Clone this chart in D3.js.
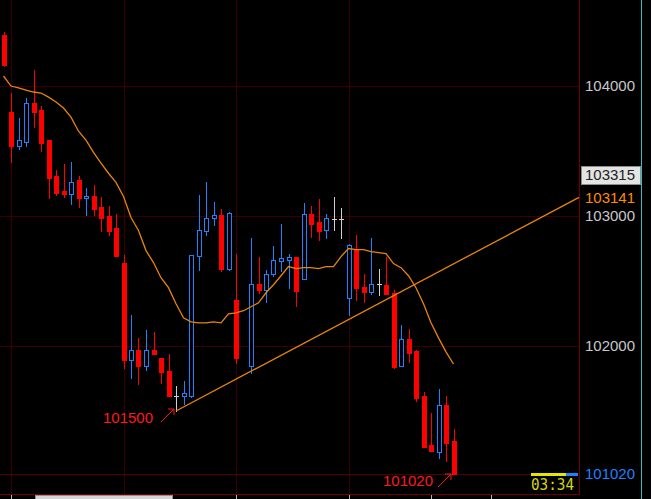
<!DOCTYPE html>
<html>
<head>
<meta charset="utf-8">
<script src="https://cdn.jsdelivr.net/npm/d3@7"></script>
<style>
  html, body { margin: 0; padding: 0; background: #000; }
  svg { display: block; }
</style>
</head>
<body>
<script>
// ---- data ----
const opens = [104389,103796,103534,103565,103865,103811,103580,103302,103187,103164,
  103272,103133,103148,103064,102994,102902,102640,101892,101969,101846,
  101969,101908,101807,101615,101615,101615,102694,102886,102979,103002,
  102593,102355,null,101846,102478,102432,102555,102655,102663,102686,
  102516,103010,102948,102894,102971,102971,102370,102748,102455,102416,
  102478,102470,102409,101846,102054,101961,101615,101237,101183,101545,
  101268];
const highs = [104412,103942,103750,103904,104119,103842,103580,103349,103395,103410,
  103302,103210,103233,103141,103071,103010,102701,102239,102062,102123,
  102108,101908,101938,101690,101730,102701,103156,103256,103102,103048,
  103025,102709,null,102825,102686,102586,102771,102940,102709,102686,
  103094,103071,103125,103010,103141,103056,102786,102848,102555,102825,
  102593,102686,102432,102162,102131,101969,101645,101484,101669,101615,
  101360];
const lows = [104150,103410,103511,103534,103680,103495,103133,103156,103141,103087,
  103064,103002,103002,102886,102855,102694,101830,101753,101707,101815,
  101938,101715,101615,101500,101553,101608,102586,102855,102925,102578,
  102586,101869,null,101792,102409,102339,102540,102578,102447,102308,
  102516,102840,102817,102832,102894,102832,102239,102355,102339,102401,
  102393,102401,101830,101846,101877,101576,101222,101191,101137,101114,
  101020];
const closes = [104158,103534,103580,103865,103796,103557,103287,103171,103164,103256,
  103133,103148,103048,102979,102886,102694,101892,101969,101846,101969,
  101938,101800,101615,101615,101638,102701,102894,102986,103002,102593,
  103017,101908,null,102478,102432,102555,102663,102678,102686,102424,
  103010,102940,102886,102979,102971,102971,102778,102447,102416,102478,
  102478,102401,101838,102054,101946,101599,101222,101191,101545,101252,
  101020];
const ma = [104073,103996,103981,103965,103950,103942,103911,103873,103827,103757,
  103649,103580,103487,103403,103326,103256,103148,102986,102886,102732,
  102640,102524,102447,102324,102216,102185,102177,102177,102185,102177,
  102247,102254,102270,102301,102331,102408,102470,102539,102609,102593,
  102601,102601,102593,102609,102609,102686,102748,102740,102740,102724,
  102717,102709,102632,102601,102539,102447,102324,102177,102062,101954,
  101861];
const gridPrices = [104000, 103000, 102000];
const gridBars = [1, 16, 31, 46];
const timeTickBars = [1, 31, 46, 57, 65];
const askPrice = 103315;
const trendStart = { bar: 23, price: 101500 };
const trendEndPrice = 103141;
const lastPrice = 101020;
const lowLabel = "101500";
const lastLabel = "101020";
const timerText = "03:34";

// ---- layout ----
const W = 651, H = 499;
const plotRight = 579, plotBottom = 494;
const x = d3.scaleLinear().domain([0, 60]).range([3.5, 453.5]);
const y = d3.scaleLinear().domain([101020, 104000]).range([473.5, 85.5]);

const svg = d3.select("body").append("svg").attr("width", W).attr("height", H)
  .style("background", "#000");

const crisp = v => Math.round(v) + 0.5;
const GRID = "#3a0000";

// grid
const grid = svg.append("g").attr("shape-rendering", "crispEdges");
grid.selectAll("line.h").data(gridPrices).join("line").attr("class", "h")
  .attr("x1", 0).attr("x2", plotRight).attr("y1", d => crisp(y(d))).attr("y2", d => crisp(y(d)))
  .attr("stroke", GRID);
grid.selectAll("line.v").data(gridBars).join("line").attr("class", "v")
  .attr("x1", d => crisp(x(d))).attr("x2", d => crisp(x(d))).attr("y1", 0).attr("y2", plotBottom)
  .attr("stroke", GRID);
// last price line
grid.append("line").attr("x1", 0).attr("x2", plotRight)
  .attr("y1", crisp(y(lastPrice))).attr("y2", crisp(y(lastPrice))).attr("stroke", "#500000");
// frame
grid.append("line").attr("x1", plotRight + 0.5).attr("x2", plotRight + 0.5).attr("y1", 0).attr("y2", plotBottom + 1)
  .attr("stroke", "#700000");
grid.append("line").attr("x1", 0).attr("x2", plotRight + 1).attr("y1", plotBottom + 0.5).attr("y2", plotBottom + 0.5)
  .attr("stroke", "#700000");
// right cyan border
grid.append("line").attr("x1", 641.5).attr("x2", 641.5).attr("y1", 0).attr("y2", H).attr("stroke", "#3cbcbc");
// bottom ticks and scroll box
grid.selectAll("line.t").data(timeTickBars).join("line").attr("class", "t")
  .attr("x1", d => crisp(x(d))).attr("x2", d => crisp(x(d))).attr("y1", plotBottom + 1).attr("y2", H)
  .attr("stroke", "#b0b0b0");
grid.append("rect").attr("x", 35.5).attr("y", 495.5).attr("width", 137).attr("height", 6)
  .attr("fill", "#d4d4d4").attr("stroke", "#909090");

// candles
const bars = d3.range(opens.length).filter(i => opens[i] !== null).map(i => ({
  i, o: opens[i], h: highs[i], l: lows[i], c: closes[i]
}));
const BLUE = "#1e82ff", RED = "#ff0000", DOJI = "#d0d0d0";
const cg = svg.append("g").attr("shape-rendering", "crispEdges");
const colorOf = d => d.c > d.o ? BLUE : (d.c < d.o ? RED : DOJI);
cg.selectAll("rect.wick").data(bars).join("rect").attr("class", "wick")
  .attr("x", d => Math.round(x(d.i))).attr("width", 1)
  .attr("y", d => Math.round(y(d.h)))
  .attr("height", d => Math.round(y(d.l)) - Math.round(y(d.h)) + 1)
  .attr("fill", colorOf);
// bearish: filled red
cg.selectAll("rect.down").data(bars.filter(d => d.c < d.o)).join("rect").attr("class", "down")
  .attr("x", d => Math.round(x(d.i)) - 2).attr("width", 5)
  .attr("y", d => Math.round(y(d.o)))
  .attr("height", d => Math.max(2, Math.round(y(d.c)) - Math.round(y(d.o)) + 1))
  .attr("fill", RED);
// bullish: hollow blue (outer blue, inner black)
const ups = bars.filter(d => d.c > d.o);
cg.selectAll("rect.up").data(ups).join("rect").attr("class", "up")
  .attr("x", d => Math.round(x(d.i)) - 2).attr("width", 5)
  .attr("y", d => Math.round(y(d.c)))
  .attr("height", d => Math.max(2, Math.round(y(d.o)) - Math.round(y(d.c)) + 1))
  .attr("fill", BLUE);
cg.selectAll("rect.upin").data(ups.filter(d => Math.round(y(d.o)) - Math.round(y(d.c)) >= 2)).join("rect").attr("class", "upin")
  .attr("x", d => Math.round(x(d.i)) - 1).attr("width", 3)
  .attr("y", d => Math.round(y(d.c)) + 1)
  .attr("height", d => Math.round(y(d.o)) - Math.round(y(d.c)) - 1)
  .attr("fill", "#000");
// doji
cg.selectAll("rect.doji").data(bars.filter(d => d.c === d.o)).join("rect").attr("class", "doji")
  .attr("x", d => Math.round(x(d.i)) - 2).attr("width", 5)
  .attr("y", d => Math.round(y(d.o))).attr("height", 1)
  .attr("fill", DOJI);

// moving average
const ORANGE = "#e8840c";
const maLine = d3.line().x((d, i) => x(i)).y(d => y(d));
svg.append("path").attr("d", maLine(ma)).attr("fill", "none")
  .attr("stroke", ORANGE).attr("stroke-width", 1.3);

// trend line
const endBar = x.invert(plotRight);
svg.append("line")
  .attr("x1", x(trendStart.bar)).attr("y1", y(trendStart.price))
  .attr("x2", x(endBar)).attr("y2", y(trendEndPrice))
  .attr("stroke", ORANGE).attr("stroke-width", 1.3);

// axis labels
const font = "'Liberation Sans', Arial, sans-serif";
svg.selectAll("text.ax").data(gridPrices).join("text").attr("class", "ax")
  .attr("x", 585).attr("y", d => y(d)).attr("dy", "0.36em")
  .attr("font-family", font).attr("font-size", 15).attr("fill", "#c8c8c8")
  .text(d => d);
svg.append("rect").attr("x", 581.5).attr("y", Math.round(y(askPrice)) - 8.5)
  .attr("width", 59).attr("height", 18).attr("fill", "#e4e4e4").attr("stroke", "#8c8c8c")
  .attr("shape-rendering", "crispEdges");
svg.append("text").attr("x", 585).attr("y", y(askPrice)).attr("dy", "0.36em")
  .attr("font-family", font).attr("font-size", 15).attr("fill", "#222").text(askPrice);
svg.append("text").attr("x", 585).attr("y", y(trendEndPrice)).attr("dy", "0.36em")
  .attr("font-family", font).attr("font-size", 15).attr("fill", "#ff8c00").text(trendEndPrice);
svg.append("text").attr("x", 585).attr("y", y(lastPrice)).attr("dy", "0.36em")
  .attr("font-family", font).attr("font-size", 15).attr("fill", BLUE).text(lastPrice);

// timer bar & text
const by = Math.round(y(lastPrice)) - 1;
svg.append("rect").attr("x", 531).attr("y", by).attr("width", 35).attr("height", 3).attr("fill", "#e6e600");
svg.append("rect").attr("x", 566).attr("y", by).attr("width", 12).attr("height", 3).attr("fill", BLUE);
svg.append("text").attr("x", 531).attr("y", 484).attr("dy", "0.36em")
  .attr("font-family", "'DejaVu Sans Mono', monospace").attr("font-size", 16)
  .attr("textLength", 43).attr("lengthAdjust", "spacingAndGlyphs")
  .attr("fill", "#d8d800").text(timerText);

// low / last annotations
function annot(txt, tx, ty, ax0, ay0, ax1, ay1) {
  svg.append("text").attr("x", tx).attr("y", ty).attr("dy", "0.36em")
    .attr("font-family", font).attr("font-size", 15).attr("fill", "#ff1a1a").text(txt);
  svg.append("path")
    .attr("d", `M${ax0},${ay0}L${ax1},${ay1}M${ax1 - 6},${ay1}L${ax1},${ay1}L${ax1},${ay1 + 6}`)
    .attr("fill", "none").attr("stroke", "#ff1a1a").attr("stroke-width", 1);
}
annot(lowLabel, 103, 418, 161, 422, 174, 409);
annot(lastLabel, 383, 481, 438, 487, 451, 474);
</script>
</body>
</html>
